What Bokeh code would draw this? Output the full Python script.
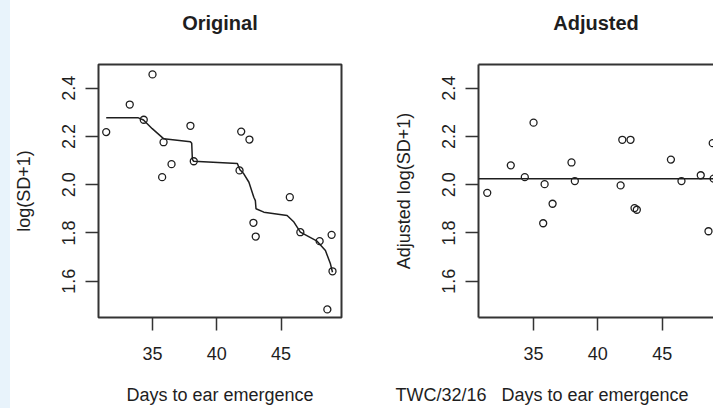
from bokeh.plotting import figure
from bokeh.layouts import row
from bokeh.models import (Range1d, FixedTicker, PrintfTickFormatter, Span,
                          LinearAxis, Title, Div)
from bokeh.embed import file_html
from bokeh.resources import INLINE

# ---------------- data ----------------
days = [31.4, 33.23, 34.32, 35.0, 35.75, 35.86, 36.48, 37.95, 38.21, 41.77,
        41.9, 42.54, 42.85, 43.03, 45.68, 46.5, 48.0, 48.6, 48.93, 49.0]
orig = [2.218, 2.332, 2.269, 2.457, 2.031, 2.176, 2.085, 2.244, 2.097, 2.059,
        2.22, 2.187, 1.842, 1.785, 1.948, 1.803, 1.766, 1.483, 1.792, 1.641]
adjusted = [1.966, 2.08, 2.031, 2.257, 1.840, 2.002, 1.921, 2.092, 2.015, 1.997,
            2.186, 2.186, 1.903, 1.896, 2.104, 2.015, 2.039, 1.807, 2.172, 2.025]

curve_x = [31.4, 33.9, 34.3, 34.98, 35.88, 37.95, 38.05, 38.1, 38.2, 41.6, 41.8,
           42.1, 42.5, 42.88, 43.0, 43.05, 43.66, 45.47, 46.0, 46.5, 47.8, 48.45,
           48.84, 49.0]
curve_y = [2.277, 2.277, 2.268, 2.232, 2.19, 2.178, 2.172, 2.105, 2.097, 2.088,
           2.062, 2.045, 2.01, 1.948, 1.934, 1.9, 1.886, 1.872, 1.845, 1.803,
           1.766, 1.727, 1.672, 1.637]

adj_level = 2.024

x_ticks = [35, 40, 45]
y_ticks = [1.6, 1.8, 2.0, 2.2, 2.4]

titles = ["Original", "Adjusted"]
x_label = "Days to ear emergence"
y_labels = ["log(SD+1)", "Adjusted log(SD+1)"]
code_text = "TWC/32/16"

FONT = "Liberation Sans"
INK = "#1e1e1e"
BOX = "#333333"


def style_axes(p):
    for ax in p.xaxis + p.yaxis:
        ax.major_tick_out = 13
        ax.major_tick_in = 0
        ax.minor_tick_line_color = None
        ax.major_tick_line_color = BOX
        ax.major_tick_line_width = 1.5
        ax.major_label_text_font = FONT
        ax.major_label_text_font_size = "18px"
        ax.major_label_text_color = INK
        ax.axis_label_text_font = FONT
        ax.axis_label_text_font_size = "18px"
        ax.axis_label_text_font_style = "normal"
        ax.axis_label_text_color = INK
    p.xaxis.ticker = FixedTicker(ticks=x_ticks)
    p.yaxis.ticker = FixedTicker(ticks=y_ticks)
    p.yaxis.formatter = PrintfTickFormatter(format="%.1f")
    p.yaxis.major_label_orientation = "vertical"
    p.xaxis.major_label_standoff = 16
    p.yaxis.major_label_standoff = 10
    p.yaxis.axis_label_standoff = 26
    p.grid.visible = False


def title_axis(text, line_color):
    return LinearAxis(ticker=FixedTicker(ticks=[]), major_tick_out=0,
                      major_tick_in=0, minor_tick_line_color=None,
                      major_label_standoff=0,
                      axis_line_color=line_color, axis_line_width=2,
                      axis_label=text, axis_label_standoff=31,
                      axis_label_text_font=FONT,
                      axis_label_text_font_size="20px",
                      axis_label_text_font_style="bold",
                      axis_label_text_color=INK)


def bottom_title(text, align="center", offset=0):
    return Title(text="\n" + text, align=align, offset=offset, text_font=FONT,
                 text_font_size="18px", text_font_style="normal",
                 text_color=INK, standoff=0)


H = 408
strip = Div(width=10, height=H, margin=(0, 0, 0, 0),
            styles={"background-color": "#e8f3fb", "padding": "0px"})

# ---------------- left panel ----------------
p1 = figure(width=378, height=H, output_backend="svg", toolbar_location=None,
            x_range=Range1d(30.8, 49.7), y_range=Range1d(1.4495, 2.498),
            min_border_left=88, min_border_right=47, min_border_top=64,
            min_border_bottom=91, background_fill_color="white",
            border_fill_color="white")
p1.outline_line_color = BOX
p1.outline_line_width = 2
style_axes(p1)
p1.xaxis.axis_line_color = None
p1.yaxis.axis_line_color = None
p1.add_layout(title_axis(titles[0], None), "above")
p1.yaxis.axis_label = y_labels[0]
p1.add_layout(bottom_title(x_label), "below")
p1.line(curve_x, curve_y, line_color=INK, line_width=1.5)
p1.scatter(days, orig, marker="circle", size=7, fill_color=None,
           line_color=INK, line_width=1.3)

# ---------------- right panel ----------------
p2 = figure(width=325, height=H, output_backend="svg", toolbar_location=None,
            x_range=Range1d(30.72, 48.99), y_range=Range1d(1.4495, 2.498),
            min_border_left=90, min_border_right=0, min_border_top=64,
            min_border_bottom=91, background_fill_color="white",
            border_fill_color="white")
p2.outline_line_color = None
style_axes(p2)
for ax in p2.xaxis + p2.yaxis:
    ax.axis_line_color = BOX
    ax.axis_line_width = 2
p2.add_layout(title_axis(titles[1], BOX), "above")
p2.yaxis.axis_label = y_labels[1]
p2.add_layout(bottom_title(code_text + "\u00a0\u00a0\u00a0" + x_label,
                           align="left", offset=-83), "below")
p2.add_layout(Span(location=adj_level, dimension="width", line_color=INK,
                   line_width=1.5))
p2.scatter(days, adjusted, marker="circle", size=7, fill_color=None,
           line_color=INK, line_width=1.3)

layout = row(strip, p1, p2)
open("out.html", "w").write(file_html(layout, INLINE))
